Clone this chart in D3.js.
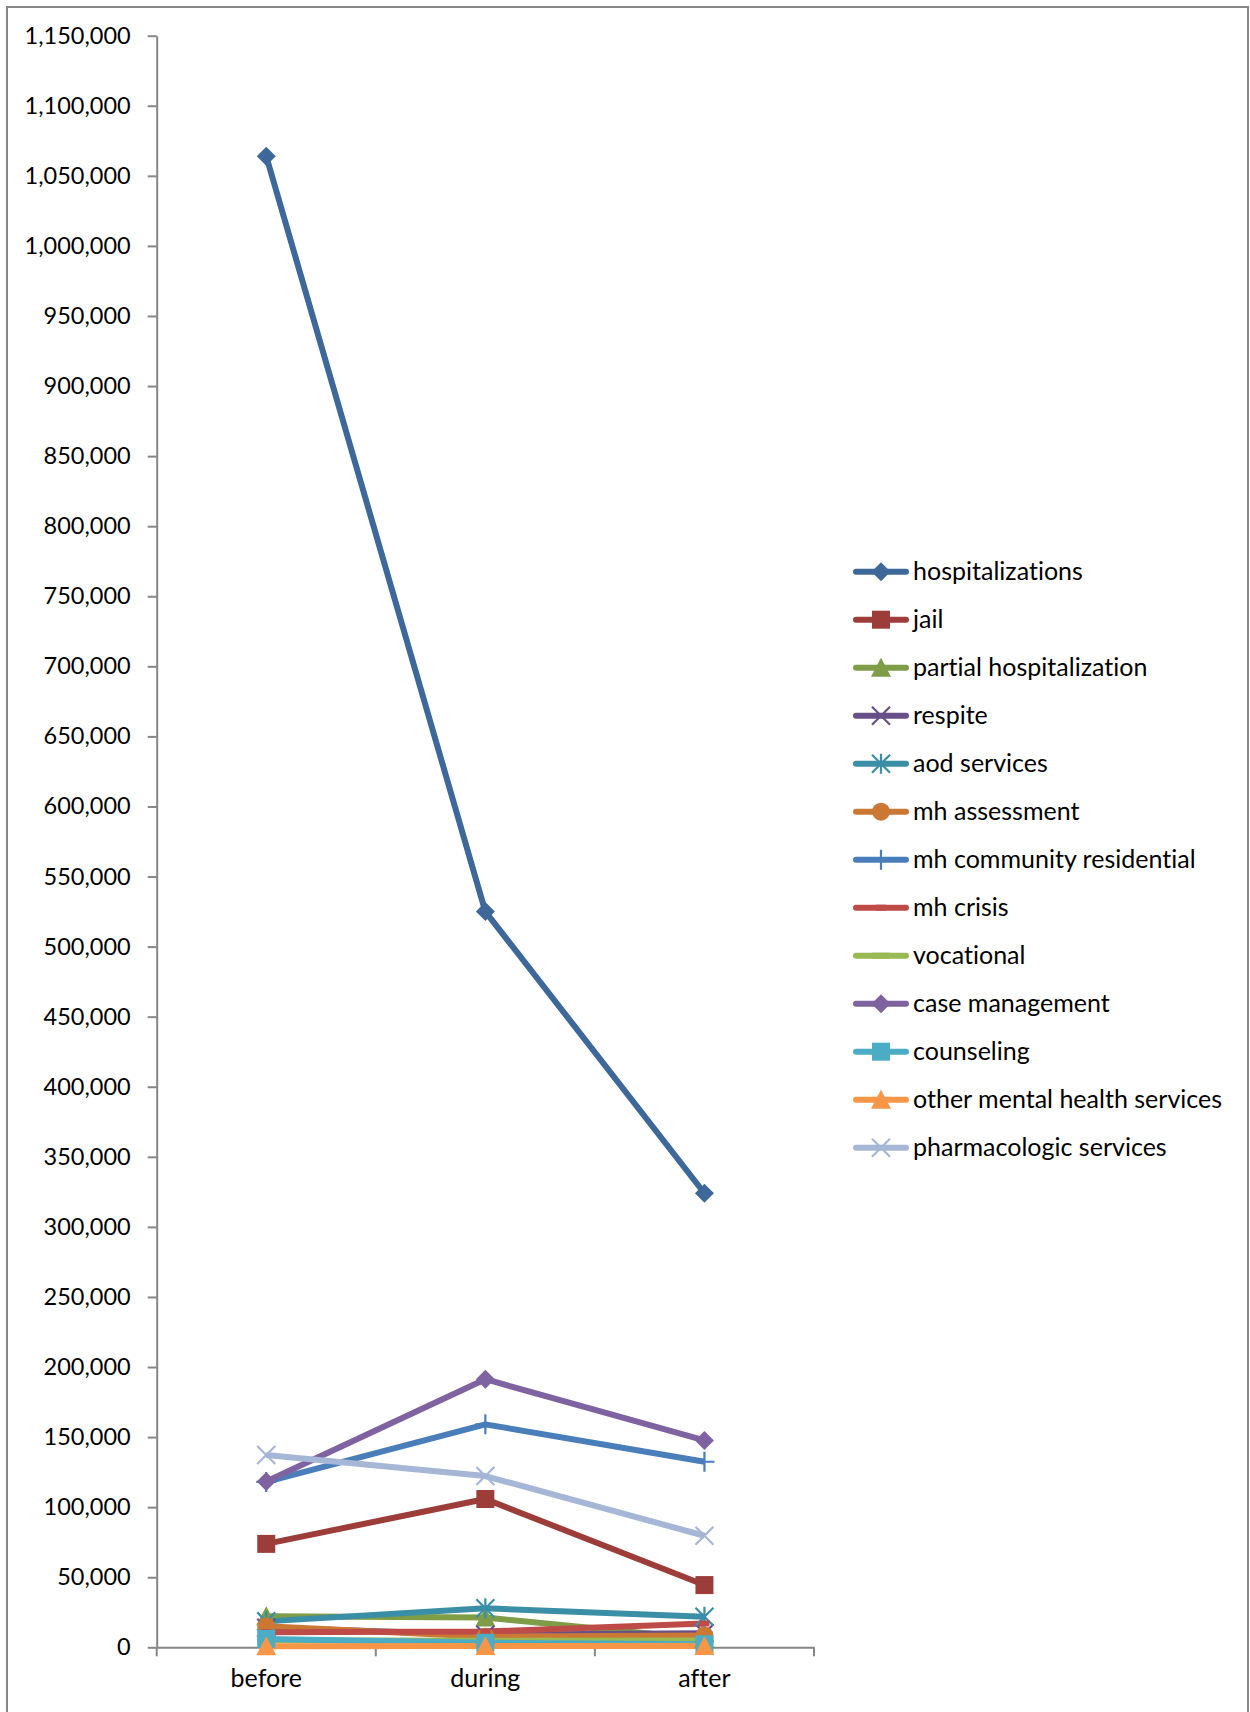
<!DOCTYPE html>
<html>
<head>
<meta charset="utf-8">
<script src="https://d3js.org/d3.v7.min.js"></script>
<style>
  body { margin: 0; background: #fff; }
  svg text {
    font-family: Lato, "Open Sans", sans-serif; fill: #000;
    font-variant-ligatures: none;
    font-feature-settings: "liga" 0, "clig" 0, "dlig" 0, "calt" 0;
    letter-spacing: 0.01px;
  }
</style>
</head>
<body>
<div id="chart"></div>
<script>
// line chart: service costs before / during / after
(function() {
    const width = 1250;
    const height = 1712;

    const periods = ['before', 'during', 'after'];

    const seriesNames = [
        'hospitalizations', 'jail', 'partial hospitalization', 'respite', 'aod services',
        'mh assessment', 'mh community residential', 'mh crisis', 'vocational',
        'case management', 'counseling', 'other mental health services', 'pharmacologic services'
    ];

    const hospitalizations = [1064000, 525000, 324000];
    const jail = [73800, 105800, 44400];
    const partialHospitalization = [22200, 21200, 6000];
    const respite = [14000, 9000, 10000];
    const aodServices = [18500, 27800, 21800];
    const mhAssessment = [15000, 7600, 8500];
    const mhCommunityResidential = [118000, 159100, 132400];
    const mhCrisis = [10800, 11300, 17000];
    const vocational = [5000, 4600, 4900];
    const caseManagement = [118300, 191300, 147600];
    const counseling = [6000, 3200, 2200];
    const otherMentalHealth = [800, 900, 900];
    const pharmacologic = [137200, 122200, 79600];

    const seriesValues = [
        hospitalizations, jail, partialHospitalization, respite, aodServices,
        mhAssessment, mhCommunityResidential, mhCrisis, vocational,
        caseManagement, counseling, otherMentalHealth, pharmacologic
    ];

    const colors = [
        '#3d6899', '#9c3d3a', '#7e9d46', '#67508a', '#3a8fa6', '#cb7835',
        '#4a7ebb', '#be4b48', '#98b954', '#7f62a0', '#4bacc6', '#f79646', '#a5b6d6'
    ];
    const markers = [
        'diamond', 'square', 'triangle', 'x', 'star', 'circle',
        'plus', 'dash', 'longdash', 'diamond', 'square', 'triangle', 'x'
    ];

    const yTicks = d3.range(0, 1150001, 50000);

    const series = seriesNames.map((name, i) => ({
        name: name,
        color: colors[i],
        marker: markers[i],
        values: seriesValues[i].map((v, j) => ({period: periods[j], value: v}))
    }));

    const svg = d3.select('#chart')
        .append('svg')
        .attr('width', width)
        .attr('height', height);

    // outer frame
    svg.append('rect')
        .attr('x', 7)
        .attr('y', 7)
        .attr('width', 1241)
        .attr('height', 1720)
        .attr('fill', 'none')
        .attr('stroke', '#878787')
        .attr('stroke-width', 2);

    const x = d3.scaleBand()
        .domain(periods)
        .range([156.7, 814]);

    const y = d3.scaleLinear()
        .domain([0, 1150000])
        .range([1647.3, 35.7]);

    const cx = d => x(d.period) + x.bandwidth() / 2;

    // y axis
    const yAxis = svg.append('g')
        .attr('transform', `translate(${x.range()[0]},0)`)
        .call(d3.axisLeft(y)
            .tickValues(yTicks)
            .tickFormat(d3.format(','))
            .tickSize(9)
            .tickSizeOuter(0)
            .tickPadding(17));
    yAxis.selectAll('path, line').attr('stroke', '#868686').attr('stroke-width', 2);
    yAxis.selectAll('text').attr('font-size', '23.5px').attr('font-family', 'Lato, sans-serif');

    // x axis with ticks on category boundaries
    const xAxis = svg.append('g')
        .attr('transform', `translate(0,${y(0)})`)
        .call(d3.axisBottom(x).tickSize(0).tickSizeOuter(0).tickPadding(22));
    xAxis.select('.domain').attr('stroke', '#868686').attr('stroke-width', 2);
    xAxis.selectAll('text').attr('font-size', '25px').attr('font-family', 'Lato, sans-serif');

    const boundaries = periods.map(p => x(p)).concat([x.range()[1]]);
    xAxis.selectAll('.boundary')
        .data(boundaries)
        .enter()
        .append('line')
        .attr('x1', d => d)
        .attr('x2', d => d)
        .attr('y1', 0)
        .attr('y2', 9)
        .attr('stroke', '#868686')
        .attr('stroke-width', 2);

    function drawMarker(g, type, color) {
        const s = 9.5;
        if (type === 'diamond') {
            g.append('path').attr('d', `M0,${-s}L${s},0L0,${s}L${-s},0Z`).attr('fill', color);
        } else if (type === 'square') {
            g.append('rect').attr('x', -9).attr('y', -9).attr('width', 18).attr('height', 18)
                .attr('fill', color);
        } else if (type === 'triangle') {
            g.append('path').attr('d', 'M0,-10L10,9L-10,9Z').attr('fill', color);
        } else if (type === 'circle') {
            g.append('circle').attr('r', 9).attr('fill', color);
        } else if (type === 'x') {
            g.append('path').attr('d', 'M-9,-9L9,9M-9,9L9,-9')
                .attr('stroke', color).attr('stroke-width', 2.2).attr('fill', 'none');
        } else if (type === 'star') {
            g.append('path').attr('d', 'M-9,-9L9,9M-9,9L9,-9M0,-10L0,10')
                .attr('stroke', color).attr('stroke-width', 2.2).attr('fill', 'none');
        } else if (type === 'plus') {
            g.append('path').attr('d', 'M-10,0L10,0M0,-10L0,10')
                .attr('stroke', color).attr('stroke-width', 2.2).attr('fill', 'none');
        } else if (type === 'dash') {
            g.append('rect').attr('x', -5).attr('y', -3).attr('width', 10).attr('height', 6)
                .attr('fill', color);
        } else if (type === 'longdash') {
            g.append('rect').attr('x', -9).attr('y', -3).attr('width', 18).attr('height', 6)
                .attr('fill', color);
        }
    }

    const line = d3.line()
        .x(cx)
        .y(d => y(d.value));

    const plot = svg.append('g');

    plot.selectAll('.series-line')
        .data(series)
        .enter()
        .append('path')
        .attr('class', 'series-line')
        .attr('d', d => line(d.values))
        .attr('fill', 'none')
        .attr('stroke', d => d.color)
        .attr('stroke-width', 6)
        .attr('stroke-linejoin', 'round');

    series.forEach(s => {
        s.values.forEach(v => {
            const g = plot.append('g')
                .attr('transform', `translate(${cx(v)},${y(v.value)})`);
            drawMarker(g, s.marker, s.color);
        });
    });

    // legend
    const legendY = d3.scalePoint()
        .domain(seriesNames)
        .range([571.7, 1147.7]);

    const legend = svg.append('g');
    series.forEach(s => {
        const g = legend.append('g')
            .attr('transform', `translate(0,${legendY(s.name)})`);
        g.append('line')
            .attr('x1', 856)
            .attr('x2', 906)
            .attr('stroke', s.color)
            .attr('stroke-width', 6)
            .attr('stroke-linecap', 'round');
        const m = g.append('g').attr('transform', 'translate(881,0)');
        drawMarker(m, s.marker, s.color);
        g.append('text')
            .attr('x', 913)
            .attr('y', 8.5)
            .attr('font-size', '25px')
            .text(s.name);
    });
})();
</script>
</body>
</html>
